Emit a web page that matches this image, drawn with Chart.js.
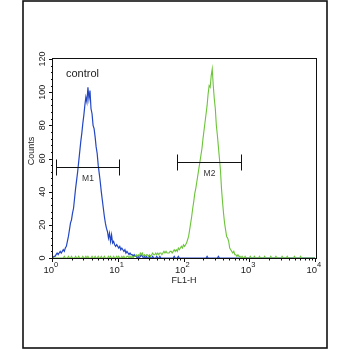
<!DOCTYPE html>
<html>
<head>
<meta charset="utf-8">
<title>FL1-H histogram</title>
<script src="https://cdn.jsdelivr.net/npm/chart.js@4.4.1/dist/chart.umd.min.js"></script>
<style>
  html, body { margin: 0; padding: 0; background: #fff; }
  #wrap { width: 350px; height: 350px; position: relative; }
</style>
</head>
<body>
<div id="wrap"><canvas id="histo"></canvas></div>
<script>
/* ======================================================
   DATA  (256 log channels, 64 channels per decade)
====================================================== */

// control sample, counts per channel
const blueCounts = [
  0, 1, 1, 2, 3, 2, 3, 4, 3, 4,
  5, 4, 6, 7, 10, 13, 17, 21, 23, 27,
  30, 36, 42, 47, 52, 58, 64, 70, 75, 81,
  86, 92, 97, 94, 103, 96, 101, 90, 87, 80,
  78, 73, 67, 63, 56, 51, 46, 40, 35, 30,
  25, 21, 18, 16, 12, 15, 10, 14, 9, 10,
  8, 7, 8, 7, 6, 7, 5, 6, 5, 4,
  5, 3, 4, 3, 2, 3, 2, 2, 1, 2,
  1, 1, 0, 1, 0, 1, 2, 1, 0, 1,
  0, 1, 0, 0, 1, 0, 0, 1, 0, 0,
  0, 1, 0, 0, 1, 0, 0, 0, 0, 0,
  0, 0, 0, 0, 0, 0, 0, 0, 1, 0,
  0, 0, 1, 0, 0, 0, 0, 0, 0, 0,
  0, 0, 0, 0, 0, 0, 0, 0, 0, 0,
  0, 0, 0, 0, 0, 0, 0, 0, 0, 0,
  1, 0, 0, 0, 0, 0, 0, 0, 0, 0,
  0, 1, 0, 0, 0, 0, 0, 0, 0, 0,
  0, 0, 0, 0, 0, 0, 0, 0, 0, 0,
  0, 0, 0, 0, 0, 0, 0, 0, 0, 0,
  0, 0, 0, 0, 0, 0, 0, 0, 0, 0,
  0, 0, 0, 0, 0, 0, 0, 0, 0, 0,
  0, 0, 0, 0, 0, 0, 0, 0, 0, 0,
  0, 0, 0, 0, 0, 0, 0, 0, 0, 0,
  0, 0, 0, 0, 0, 0, 0, 0, 0, 0,
  0, 0, 0, 0, 0, 0, 0, 0, 0, 0,
  0, 0, 0, 0, 0, 0
];

// stained sample, counts per channel
const greenCounts = [
  0, 0, 0, 0, 0, 0, 0, 0, 0, 0,
  0, 1, 0, 0, 0, 1, 0, 0, 1, 0,
  0, 0, 1, 0, 0, 1, 0, 0, 0, 1,
  0, 0, 1, 0, 1, 0, 0, 0, 1, 0,
  0, 1, 0, 0, 1, 0, 0, 1, 0, 0,
  1, 0, 0, 0, 1, 0, 1, 0, 0, 1,
  0, 0, 1, 0, 1, 0, 0, 1, 0, 1,
  0, 0, 1, 1, 0, 1, 0, 1, 0, 1,
  1, 2, 1, 2, 1, 3, 2, 3, 1, 2,
  1, 2, 2, 1, 2, 1, 2, 3, 2, 2,
  3, 2, 3, 2, 3, 3, 2, 3, 4, 3,
  4, 3, 3, 3, 4, 4, 3, 4, 5, 4,
  5, 4, 6, 5, 6, 7, 6, 8, 7, 8,
  9, 11, 13, 17, 21, 25, 30, 34, 39, 42,
  46, 50, 54, 58, 62, 66, 72, 77, 82, 87,
  92, 99, 104, 103, 110, 114, 104, 96, 90, 80,
  74, 67, 60, 53, 42, 34, 27, 21, 17, 13,
  12, 10, 6, 5, 4, 3, 4, 2, 2, 1,
  2, 1, 1, 0, 1, 0, 0, 1, 0, 0,
  0, 0, 1, 0, 0, 0, 1, 0, 0, 0,
  0, 1, 0, 0, 0, 0, 1, 0, 0, 0,
  0, 0, 1, 0, 0, 0, 0, 1, 0, 0,
  0, 0, 0, 1, 0, 0, 0, 0, 1, 0,
  0, 0, 0, 0, 0, 1, 0, 0, 0, 0,
  0, 1, 0, 0, 0, 0, 0, 0, 0, 0,
  0, 0, 0, 0, 0, 0
];

// axis ticks
const yTicks = [0, 20, 40, 60, 80, 100, 120];
const yMinorStep = 4;
const xDecades = [0, 1, 2, 3, 4];
const CH_PER_DECADE = 64;

// region markers (channel start, channel end, count level)
const markerNames = ["M1", "M2"];
const markerStart = [3, 121];
const markerEnd = [64, 183];
const markerLevel = [55, 58];

/* ======================================================
   HELPERS
====================================================== */

const FONT = '"Liberation Sans", Arial, sans-serif';

function toPoints(counts) {
  return counts.map((v, i) => ({ x: i, y: v }));
}

/* ======================================================
   DECORATION PLUGIN (frames, ticks, labels, markers)
====================================================== */

const cytoDecor = {
  id: 'cytoDecor',
  afterDraw(chart) {
    const { ctx, chartArea: a, scales } = chart;
    const xs = scales.x, ys = scales.y;
    ctx.save();

    // outer panel frame
    ctx.strokeStyle = '#111';
    ctx.lineWidth = 1.6;
    ctx.strokeRect(23, 1, 304, 347);

    // plot frame
    ctx.lineWidth = 1;
    ctx.strokeRect(Math.round(a.left) - 0.5, Math.round(a.top) - 0.5,
      Math.round(a.right - a.left) + 1, Math.round(a.bottom - a.top) + 1);

    // y ticks
    ctx.beginPath();
    for (let v = 0; v <= 120; v += yMinorStep) {
      const y = Math.round(ys.getPixelForValue(v)) + 0.5;
      const len = yTicks.includes(v) ? 4 : 2;
      ctx.moveTo(a.left, y);
      ctx.lineTo(a.left - len, y);
    }
    // x ticks, log minor ticks inside each decade
    xDecades.forEach(d => {
      const xm = Math.round(xs.getPixelForValue(d * CH_PER_DECADE)) - 0.5;
      ctx.moveTo(xm, a.bottom);
      ctx.lineTo(xm, a.bottom + 4);
      if (d < xDecades[xDecades.length - 1]) {
        for (let m = 2; m <= 9; m++) {
          const x = Math.round(xs.getPixelForValue((d + Math.log10(m)) * CH_PER_DECADE)) - 0.5;
          ctx.moveTo(x, a.bottom);
          ctx.lineTo(x, a.bottom + 2.5);
        }
      }
    });
    ctx.stroke();

    ctx.fillStyle = '#222';

    // y tick labels, rotated
    ctx.font = '9px ' + FONT;
    ctx.textAlign = 'center';
    ctx.textBaseline = 'middle';
    yTicks.forEach(v => {
      ctx.save();
      ctx.translate(43, ys.getPixelForValue(v));
      ctx.rotate(-Math.PI / 2);
      ctx.fillText(String(v), 0, 0);
      ctx.restore();
    });

    // y title
    ctx.save();
    ctx.translate(32, 151);
    ctx.rotate(-Math.PI / 2);
    ctx.font = '9px ' + FONT;
    ctx.fillText('Counts', 0, 0);
    ctx.restore();

    // x tick labels: 10 with superscript exponent
    ctx.textBaseline = 'alphabetic';
    xDecades.forEach(d => {
      const x = xs.getPixelForValue(d * CH_PER_DECADE);
      ctx.font = '9.5px ' + FONT;
      ctx.textAlign = 'right';
      ctx.fillText('10', x + 1, 273);
      ctx.font = '7.5px ' + FONT;
      ctx.textAlign = 'left';
      ctx.fillText(String(d), x + 1, 267);
    });

    // x title
    ctx.font = '9px ' + FONT;
    ctx.textAlign = 'center';
    ctx.textBaseline = 'middle';
    ctx.fillText('FL1-H', 184, 281);

    // sample label
    ctx.font = '11px ' + FONT;
    ctx.textAlign = 'left';
    ctx.fillText('control', 66, 74);

    // region markers
    ctx.strokeStyle = '#111';
    ctx.lineWidth = 1;
    markerNames.forEach((name, i) => {
      const x1 = Math.round(xs.getPixelForValue(markerStart[i])) + 0.5;
      const x2 = Math.round(xs.getPixelForValue(markerEnd[i])) + 0.5;
      const y = Math.round(ys.getPixelForValue(markerLevel[i])) + 0.5;
      ctx.beginPath();
      ctx.moveTo(x1, y); ctx.lineTo(x2, y);
      ctx.moveTo(x1, y - 8); ctx.lineTo(x1, y + 8);
      ctx.moveTo(x2, y - 8); ctx.lineTo(x2, y + 8);
      ctx.stroke();
      ctx.font = '8.5px ' + FONT;
      ctx.textAlign = 'center';
      ctx.fillStyle = '#333';
      ctx.fillText(name, (x1 + x2) / 2, y + 11);
    });

    ctx.restore();
  }
};

/* ======================================================
   CHART
====================================================== */

new Chart(document.getElementById('histo'), {
  type: 'line',
  data: {
    datasets: [
      {
        label: 'control',
        data: toPoints(blueCounts),
        borderColor: '#2347c4',
        borderWidth: 1.2,
        pointRadius: 0,
        tension: 0,
        order: 2
      },
      {
        label: 'stained',
        data: toPoints(greenCounts),
        borderColor: '#6cc43a',
        borderWidth: 1.1,
        pointRadius: 0,
        tension: 0,
        order: 1
      }
    ]
  },
  options: {
    responsive: true,
    maintainAspectRatio: false,
    animation: false,
    events: [],
    layout: { padding: { left: 53, top: 59, right: 34, bottom: 92 } },
    plugins: { legend: { display: false }, tooltip: { enabled: false } },
    scales: {
      x: { type: 'linear', min: 0, max: 256, display: false },
      y: { type: 'linear', min: 0, max: 120, display: false }
    }
  },
  plugins: [cytoDecor]
});
</script>
</body>
</html>
